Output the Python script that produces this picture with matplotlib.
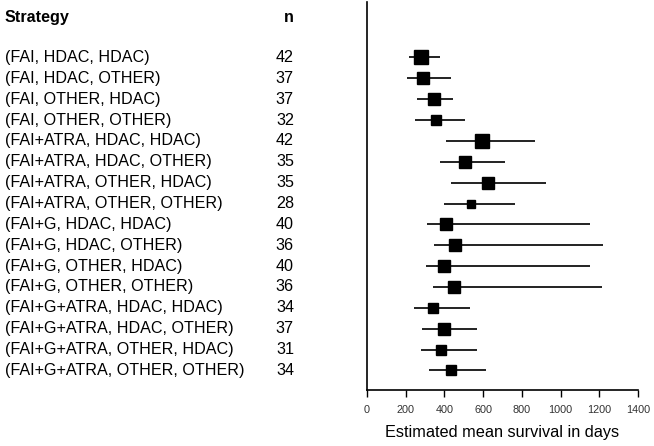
import matplotlib
matplotlib.use("Agg")
import matplotlib.pyplot as plt
from matplotlib.transforms import blended_transform_factory

plt.rcParams['font.family'] = ['Liberation Sans', 'DejaVu Sans']

strategies = [
    "(FAI, HDAC, HDAC)", "(FAI, HDAC, OTHER)", "(FAI, OTHER, HDAC)", "(FAI, OTHER, OTHER)",
    "(FAI+ATRA, HDAC, HDAC)", "(FAI+ATRA, HDAC, OTHER)", "(FAI+ATRA, OTHER, HDAC)", "(FAI+ATRA, OTHER, OTHER)",
    "(FAI+G, HDAC, HDAC)", "(FAI+G, HDAC, OTHER)", "(FAI+G, OTHER, HDAC)", "(FAI+G, OTHER, OTHER)",
    "(FAI+G+ATRA, HDAC, HDAC)", "(FAI+G+ATRA, HDAC, OTHER)", "(FAI+G+ATRA, OTHER, HDAC)", "(FAI+G+ATRA, OTHER, OTHER)",
]
n_values = [42, 37, 37, 32, 42, 35, 35, 28, 40, 36, 40, 36, 34, 37, 31, 34]
mean_survival = [281, 289, 346, 355, 594, 506, 624, 537, 407, 457, 400, 450, 343, 396, 381, 436]
ci_low = [217, 207, 258, 246, 407, 376, 434, 400, 308, 345, 305, 341, 245, 283, 279, 322]
ci_high = [377, 436, 444, 506, 866, 713, 925, 765, 1154, 1221, 1154, 1212, 530, 567, 570, 617]
x_ticks = [0, 200, 400, 600, 800, 1000, 1200, 1400]

W, H = 654, 446
fig = plt.figure(figsize=(W / 100, H / 100), dpi=100)
ax = fig.add_axes([367 / W, 1 - 390 / H, (638 - 367) / W, (390 - 2) / H])

rows = list(range(1, len(strategies) + 1))
for r, m, lo, hi, n in zip(rows, mean_survival, ci_low, ci_high, n_values):
    ax.plot([lo, hi], [r, r], color='#222222', lw=1.4, solid_capstyle='butt', zorder=2)
    ax.plot([m], [r], marker='s', ms=n * 0.228, color='black', mec='black', zorder=3)

ax.set_xlim(0, 1400)
ax.set_ylim(16.94, -1.66)
ax.set_xticks(x_ticks)
ax.set_xticklabels([str(t) for t in x_ticks], fontsize=7.8, color='#333333')
ax.tick_params(axis='x', length=5, width=1, pad=6)
ax.set_yticks([])
for s in ['top', 'right']:
    ax.spines[s].set_visible(False)
for s in ['left', 'bottom']:
    ax.spines[s].set_linewidth(1.2)
ax.set_xlabel("Estimated mean survival in days", fontsize=11.7, labelpad=7)

tr = blended_transform_factory(fig.transFigure, ax.transData)
ax.text(5 / W, -0.94, "Strategy", transform=tr, fontsize=11.6, fontweight='bold',
        ha='left', va='center', clip_on=False)
ax.text(294 / W, -0.94, "n", transform=tr, fontsize=11.6, fontweight='bold',
        ha='right', va='center', clip_on=False)
for r, s, n in zip(rows, strategies, n_values):
    ax.text(5 / W, r, s, transform=tr, fontsize=11.6, ha='left', va='center', clip_on=False)
    ax.text(294 / W, r, str(n), transform=tr, fontsize=11.6, ha='right', va='center', clip_on=False)

fig.savefig("out.png", dpi=100)
